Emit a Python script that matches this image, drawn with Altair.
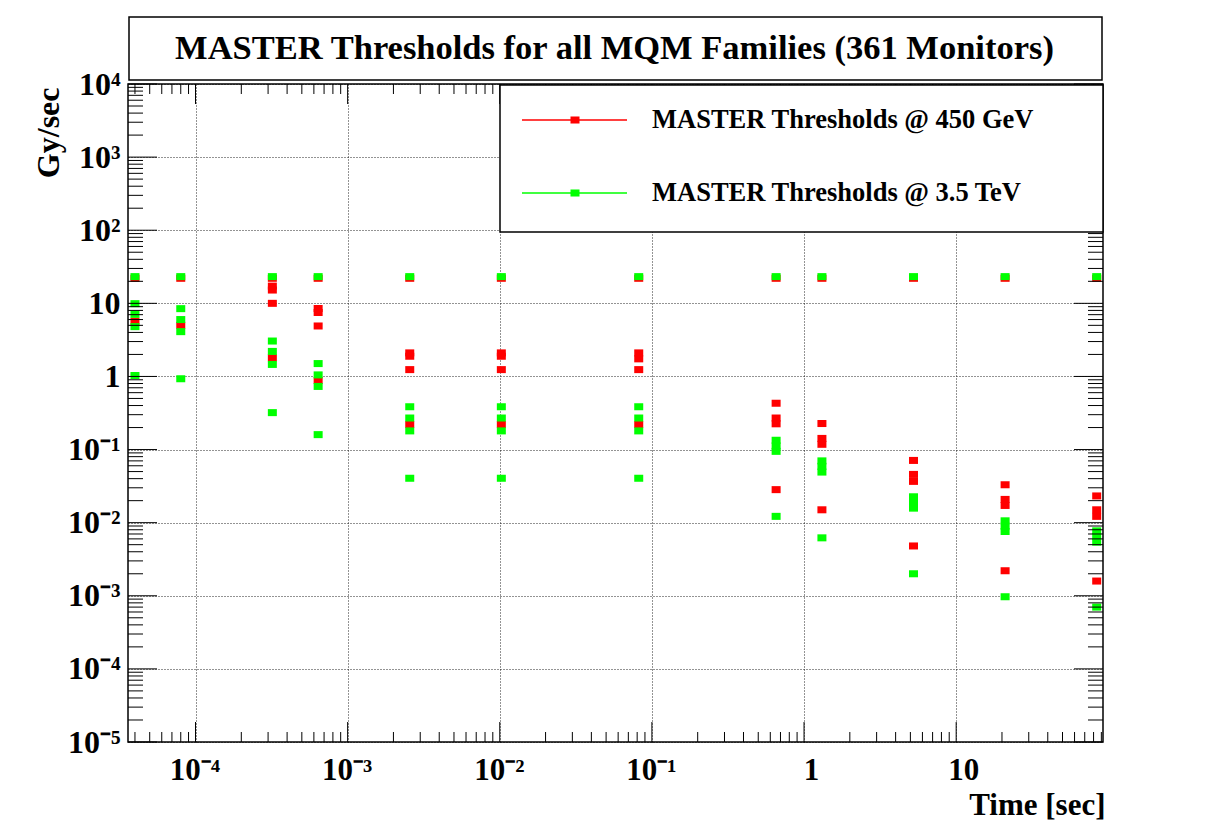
import json
import altair as alt
import pandas as pd

# ---------------- data ----------------
times = [40e-6, 80e-6, 320e-6, 640e-6, 2.56e-3, 10.24e-3, 81.92e-3,
         0.65536, 1.31072, 5.24288, 20.97152, 83.88608]

red_450 = [
    [22.0, 5.7],
    [22.0, 5.0],
    [22.0, 17.2, 15.2, 10.0, 1.8],
    [22.0, 8.5, 7.5, 4.9, 0.88],
    [22.0, 2.1, 1.89, 1.24, 0.22],
    [22.0, 2.1, 1.89, 1.24, 0.22],
    [22.0, 2.1, 1.74, 1.24, 0.22],
    [22.0, 0.43, 0.27, 0.225, 0.0283],
    [22.0, 0.227, 0.142, 0.118, 0.015],
    [22.0, 0.071, 0.0457, 0.0367, 0.0048],
    [22.0, 0.033, 0.0208, 0.0172, 0.0022],
    [22.0, 0.0232, 0.015, 0.0122, 0.00159],
]

green_35 = [
    [23.2, 9.9, 7.07, 4.8, 1.03],
    [23.2, 8.46, 6.0, 4.1, 0.93],
    [23.2, 3.05, 2.2, 1.46, 0.32],
    [23.2, 1.5, 1.05, 0.73, 0.16],
    [23.2, 0.385, 0.27, 0.18, 0.0405],
    [23.2, 0.385, 0.27, 0.18, 0.0405],
    [23.2, 0.385, 0.27, 0.18, 0.0405],
    [23.2, 0.134, 0.112, 0.0945, 0.0122],
    [23.2, 0.070, 0.0589, 0.0492, 0.0062],
    [23.2, 0.0226, 0.0189, 0.0158, 0.0020],
    [23.2, 0.0106, 0.00896, 0.00757, 0.00097],
    [23.2, 0.00773, 0.00647, 0.00541, 0.0007],
]

series_names = ["MASTER Thresholds @ 450 GeV", "MASTER Thresholds @ 3.5 TeV"]
series_colors = ["#FF0000", "#00FF00"]
title_text = "MASTER Thresholds for all MQM Families (361 Monitors)"

x_major = [1e-4, 1e-3, 1e-2, 1e-1, 1, 10]
x_labels = ["10\u207b\u2074", "10\u207b\u00b3", "10\u207b\u00b2", "10\u207b\u00b9", "1", "10"]
y_major = [1e-5, 1e-4, 1e-3, 1e-2, 1e-1, 1, 10, 1e2, 1e3, 1e4]
y_labels = ["10\u207b\u2075", "10\u207b\u2074", "10\u207b\u00b3", "10\u207b\u00b2", "10\u207b\u00b9",
            "1", "10", "10\u00b2", "10\u00b3", "10\u2074"]

x_domain = [3.6e-5, 92.28]
y_domain = [1e-5, 1e4]

# ---------------- tables ----------------
rows = []
for t, vals in zip(times, red_450):
    for v in vals:
        rows.append({"t": t, "v": v, "s": series_names[0]})
red_df = pd.DataFrame(rows)
rows = []
for t, vals in zip(times, green_35):
    for v in vals:
        rows.append({"t": t, "v": v, "s": series_names[1]})
green_df = pd.DataFrame(rows)


def minor_ticks(lo_exp, hi_exp, lo, hi):
    out = []
    for e in range(lo_exp, hi_exp + 1):
        for m in range(2, 10):
            val = m * 10.0 ** e
            if lo <= val <= hi:
                out.append(val)
    return out


x_minor_df = pd.DataFrame({"t": minor_ticks(-5, 1, *x_domain)})
x_major_df = pd.DataFrame({"t": x_major})
y_minor_df = pd.DataFrame({"v": minor_ticks(-5, 3, *y_domain)})
y_major_df = pd.DataFrame({"v": y_major})

W, H = 975, 658
FONT = "Liberation Serif"

xscale = alt.Scale(type="log", domain=x_domain, nice=False)
yscale = alt.Scale(type="log", domain=y_domain, nice=False)
cscale = alt.Scale(domain=series_names, range=series_colors)

square = "M-1,-0.78L1,-0.78L1,0.78L-1,0.78Z"

x_expr = json.dumps(x_labels, ensure_ascii=False) + "[round(log(datum.value)/LN10)+4]"
y_expr = json.dumps(y_labels, ensure_ascii=False) + "[round(log(datum.value)/LN10)+5]"

x_axis = alt.Axis(
    values=x_major, labelExpr=x_expr, grid=True, gridDash=[1, 2], gridColor="#000000",
    gridOpacity=0.85, gridWidth=1, ticks=False, tickSize=0, domain=False,
    labelFont=FONT, labelFontSize=31, labelFontWeight="bold", labelColor="black",
    labelBaseline="alphabetic", labelPadding=37, labelFlush=False, labelOverlap=False,
    labelOffset={"condition": {"test": "datum.value >= 1", "value": 7}, "value": -1},
    title="Time [sec]", titleFont=FONT, titleFontSize=31, titleFontWeight="bold",
    titleColor="black", titleAnchor="end", titleAlign="right", titleBaseline="alphabetic",
    titleX=W + 2, titleY=72,
)
y_axis = alt.Axis(
    values=y_major, labelExpr=y_expr, grid=True, gridDash=[1, 2], gridColor="#000000",
    gridOpacity=0.85, gridWidth=1, ticks=False, tickSize=0, domain=False,
    labelFont=FONT, labelFontSize=32, labelFontWeight="bold", labelColor="black",
    labelAlign="right", labelBaseline="middle", labelPadding=8, labelFlush=False,
    labelOverlap=False,
    title="Gy/sec", titleFont=FONT, titleFontSize=32, titleFontWeight="bold",
    titleColor="black", titleAngle=270, titleAlign="right", titleBaseline="alphabetic",
    titleX=-70, titleY=3,
)

X = alt.X("t:Q", scale=xscale, axis=x_axis)
Y = alt.Y("v:Q", scale=yscale, axis=y_axis)

red_layer = alt.Chart(red_df).mark_point(shape=square, filled=True, size=81, opacity=1).encode(
    x=X, y=Y, color=alt.Color("s:N", scale=cscale, legend=None),
)
green_layer = alt.Chart(green_df).mark_point(shape=square, filled=True, size=81, opacity=1).encode(
    x=X, y=Y, color=alt.Color("s:N", scale=cscale, legend=None),
)

tick_layers = []
for df, ln in ((x_major_df, 20), (x_minor_df, 10)):
    tick_layers.append(alt.Chart(df).mark_rule(color="black", strokeWidth=1).encode(
        x=X, y=alt.value(H), y2=alt.value(H - ln)))
    tick_layers.append(alt.Chart(df).mark_rule(color="black", strokeWidth=1).encode(
        x=X, y=alt.value(0), y2=alt.value(ln)))
for df, ln in ((y_major_df, 29), (y_minor_df, 15)):
    tick_layers.append(alt.Chart(df).mark_rule(color="black", strokeWidth=1).encode(
        y=Y, x=alt.value(0), x2=alt.value(ln)))
    tick_layers.append(alt.Chart(df).mark_rule(color="black", strokeWidth=1).encode(
        y=Y, x=alt.value(W), x2=alt.value(W - ln)))

box_df = pd.DataFrame({"k": [0]})
legend_box = alt.Chart(box_df).mark_rect(fill="white", stroke="black", strokeWidth=1.5).encode(
    x=alt.value(372), x2=alt.value(W), y=alt.value(1), y2=alt.value(148))
title_box = alt.Chart(box_df).mark_rect(fill="white", stroke="black", strokeWidth=1.5).encode(
    x=alt.value(1), x2=alt.value(W - 1), y=alt.value(-67), y2=alt.value(-4))
title_df = pd.DataFrame({"txt": [title_text]})
title_mark = alt.Chart(title_df).mark_text(
    font=FONT, fontSize=34.5, fontWeight="bold", color="black", align="center", baseline="alphabetic"
).encode(x=alt.value(W / 2 - 1), y=alt.value(-25), text="txt:N")

legend_layers = []
for name, color, ypix in zip(series_names, series_colors, (36, 109)):
    ldf = pd.DataFrame({"s": [name]})
    legend_layers.append(alt.Chart(ldf).mark_rule(color=color, strokeWidth=1.3).encode(
        x=alt.value(394), x2=alt.value(499), y=alt.value(ypix)))
    legend_layers.append(alt.Chart(ldf).mark_point(shape=square, filled=True, size=81, opacity=1,
                                                   color=color).encode(
        x=alt.value(447), y=alt.value(ypix)))
    legend_layers.append(alt.Chart(ldf).mark_text(
        font=FONT, fontSize=26.5, fontWeight="bold", color="black", align="left", baseline="middle"
    ).encode(x=alt.value(524), y=alt.value(ypix), text="s:N"))

chart = alt.layer(
    red_layer, green_layer, *tick_layers, legend_box, title_box, title_mark, *legend_layers
).properties(
    width=W, height=H,
    autosize=alt.AutoSizeParams(type="none"),
    padding={"left": 128, "top": 84, "right": 1221 - 128 - W, "bottom": 822 - 84 - H},
    background="white",
).configure_view(stroke="black", strokeWidth=1.5)

chart.save("out.html", embed_options={"renderer": "svg", "actions": False})
